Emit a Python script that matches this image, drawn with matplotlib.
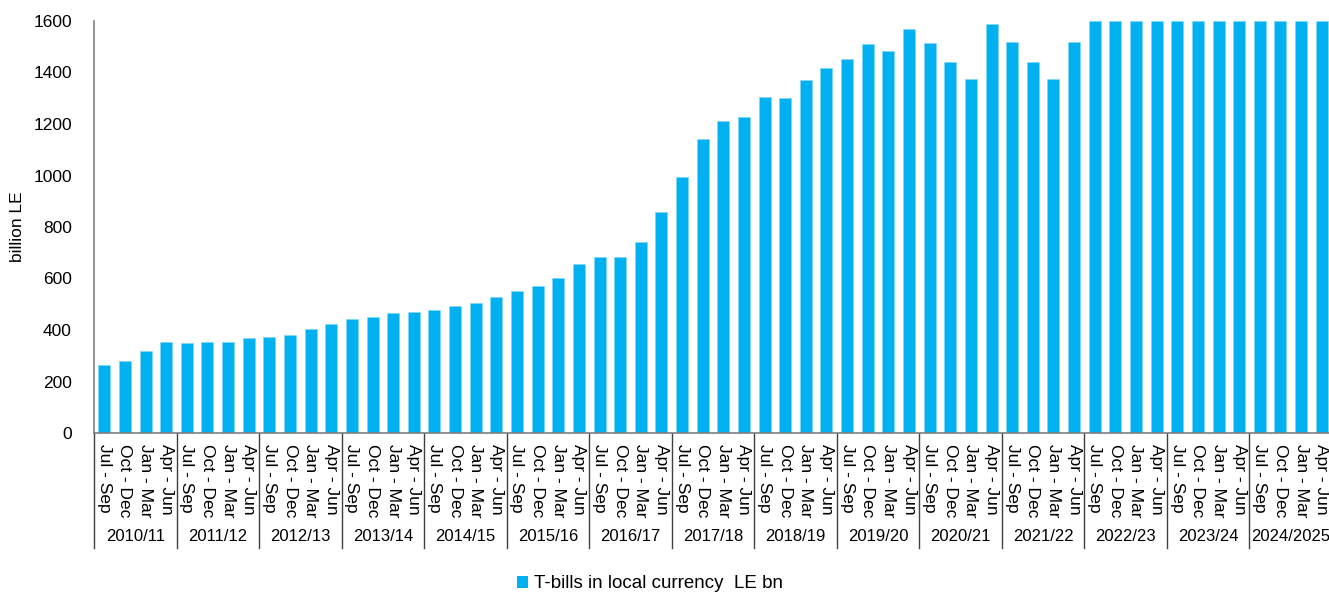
import matplotlib
matplotlib.use("Agg")
import matplotlib.pyplot as plt
import matplotlib.transforms as mtransforms
from matplotlib.patches import Patch

plt.rcParams['font.family'] = ['Liberation Sans', 'DejaVu Sans']

# fiscal years and quarters (July-June fiscal year)
years = ['2010/11', '2011/12', '2012/13', '2013/14', '2014/15', '2015/16',
         '2016/17', '2017/18', '2018/19', '2019/20', '2020/21', '2021/22',
         '2022/23', '2023/24', '2024/2025']
quarters = ['Jul - Sep', 'Oct - Dec', 'Jan - Mar', 'Apr - Jun']

# T-bills outstanding, billion LE (axis tops out at 1600)
tbills = [265, 280, 318, 353,
          348, 353, 353, 370,
          374, 380, 404, 423,
          444, 452, 466, 470,
          476, 492, 506, 530,
          551, 572, 603, 655,
          685, 683, 740, 858,
          994, 1140, 1210, 1226,
          1304, 1300, 1371, 1416,
          1454, 1512, 1483, 1568,
          1516, 1441, 1374, 1588,
          1517, 1441, 1374, 1518,
          1600, 1600, 1600, 1600,
          1600, 1600, 1600, 1600,
          1600, 1600, 1600, 1600]

labels = [q for _ in years for q in quarters]
x = list(range(len(tbills)))

fig = plt.figure(figsize=(13.29, 5.94), dpi=100)
ax = fig.add_axes([94 / 1329, 161 / 594, 1238 / 1329, 412 / 594])

bars = ax.bar(x, tbills, width=0.58, color='#00B0F0', edgecolor='#7fd7f7', linewidth=0.4)

ax.set_xlim(-0.5, len(x) - 0.5)
ax.set_ylim(0, 1600)
ax.set_yticks(range(0, 1601, 200))
ax.tick_params(axis='y', length=0, labelsize=12.5, pad=16)
ax.set_ylabel('billion LE', fontsize=12.5, labelpad=6)

ax.set_xticks(x)
ax.set_xticklabels(labels, rotation=270, fontsize=12.5)
ax.tick_params(axis='x', length=0, pad=8)

for side in ('top', 'right'):
    ax.spines[side].set_visible(False)
for side in ('left', 'bottom'):
    ax.spines[side].set_color('#7f7f7f')
    ax.spines[side].set_linewidth(1.2)

# second level of the category axis: year separators and year names
trans = mtransforms.blended_transform_factory(ax.transData, ax.transAxes)
for i in range(len(years) + 1):
    ax.plot([i * 4 - 0.5, i * 4 - 0.5], [0, -0.279], transform=trans,
            color='#404040', linewidth=1, clip_on=False)
for i, yr in enumerate(years):
    ax.text(i * 4 + 1.5, -0.252, yr, transform=trans, ha='center', va='center',
            fontsize=12)

handle = Patch(facecolor='#00B0F0', edgecolor='none')
fig.legend([handle], ['T-bills in local currency  LE bn'], loc='center',
           bbox_to_anchor=(0.489, 0.017), frameon=False, fontsize=13.5,
           handlelength=0.6, handleheight=0.6, handletextpad=0.3)

fig.savefig('out.png', dpi=100)
